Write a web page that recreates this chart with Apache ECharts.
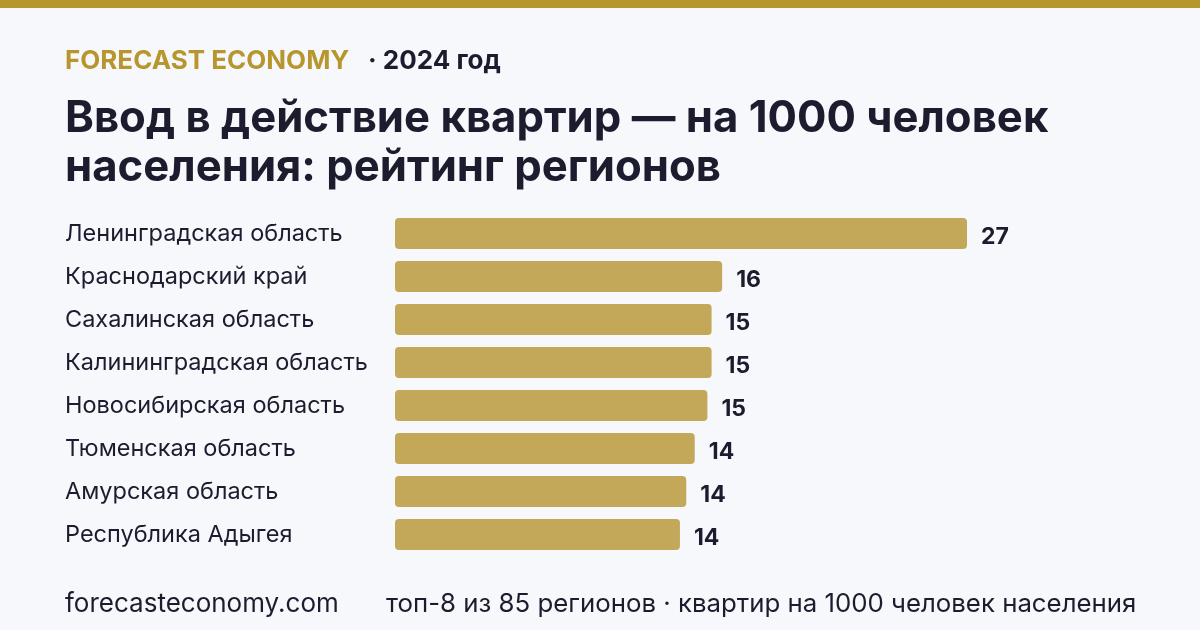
<!DOCTYPE html>
<html>
<head>
<meta charset="utf-8">
<script src="https://cdn.jsdelivr.net/npm/echarts@6/dist/echarts.min.js"></script>
<style>
  html, body { margin: 0; padding: 0; background: #f7f8fc; }
  #chart { width: 1200px; height: 630px; }
</style>
</head>
<body>
<div id="chart"></div>
<script>
  // регионы сверху вниз
  var regions = [
    'Ленинградская область',
    'Краснодарский край',
    'Сахалинская область',
    'Калининградская область',
    'Новосибирская область',
    'Тюменская область',
    'Амурская область',
    'Республика Адыгея'
  ]
  // квартир на 1000 человек населения (оценка по длине столбцов)
  var flats = [27.1, 15.5, 15.0, 15.0, 14.8, 14.2, 13.8, 13.5]

  var brand = 'FORECAST ECONOMY'
  var yearText = '· 2024 год'
  var titleLines = ['Ввод в действие квартир — на 1000 человек', 'населения: рейтинг регионов']
  var siteText = 'forecasteconomy.com'
  var noteText = 'топ-8 из 85 регионов · квартир на 1000 человек населения'

  var font = 'Inter, "Noto Sans", sans-serif'
  var dark = '#1c1c2e'
  var gold = '#b8962e'

  var chart = echarts.init(document.getElementById('chart'))
  chart.setOption({
    backgroundColor: '#f7f8fc',
    textStyle: { fontFamily: font },
    animation: false,
    grid: {
      left: 395,
      right: 233,
      top: 212,
      bottom: 74,
      containLabel: false
    },
    xAxis: {
      type: 'value',
      min: 0,
      max: flats[0],
      show: false
    },
    yAxis: {
      type: 'category',
      data: regions,
      inverse: true,
      axisLine: { show: false },
      axisTick: { show: false },
      splitLine: { show: false },
      axisLabel: {
        margin: 330,
        align: 'left',
        color: dark,
        fontSize: 23.5,
        fontFamily: font,
        padding: [9, 0, 0, 0]
      }
    },
    series: [{
      type: 'bar',
      data: flats,
      barCategoryGap: '28%',
      itemStyle: {
        color: '#c4a85a',
        borderRadius: 4
      },
      label: {
        show: true,
        position: 'right',
        distance: 14,
        offset: [0, 4],
        color: dark,
        fontSize: 23,
        fontWeight: 'bold',
        fontFamily: font,
        formatter: function (p) { return Math.round(p.value) }
      }
    }],
    graphic: [
      {
        type: 'rect',
        left: 0, top: 0,
        shape: { width: 1200, height: 8 },
        style: { fill: gold }
      },
      {
        type: 'text', left: 65, top: 48,
        style: { text: brand, fill: gold, font: 'bold 26px ' + font }
      },
      {
        type: 'text', left: 368, top: 48,
        style: { text: yearText, fill: dark, font: 'bold 26px ' + font }
      },
      {
        type: 'text', left: 65, top: 94,
        style: { text: titleLines.join('\n'), fill: dark, font: 'bold 43.7px ' + font, lineHeight: 49 }
      },
      {
        type: 'text', left: 65, top: 591,
        style: { text: siteText, fill: dark, font: '26px ' + font }
      },
      {
        type: 'text', left: 386, top: 591,
        style: { text: noteText, fill: dark, font: '25.8px ' + font }
      }
    ]
  })
</script>
</body>
</html>
